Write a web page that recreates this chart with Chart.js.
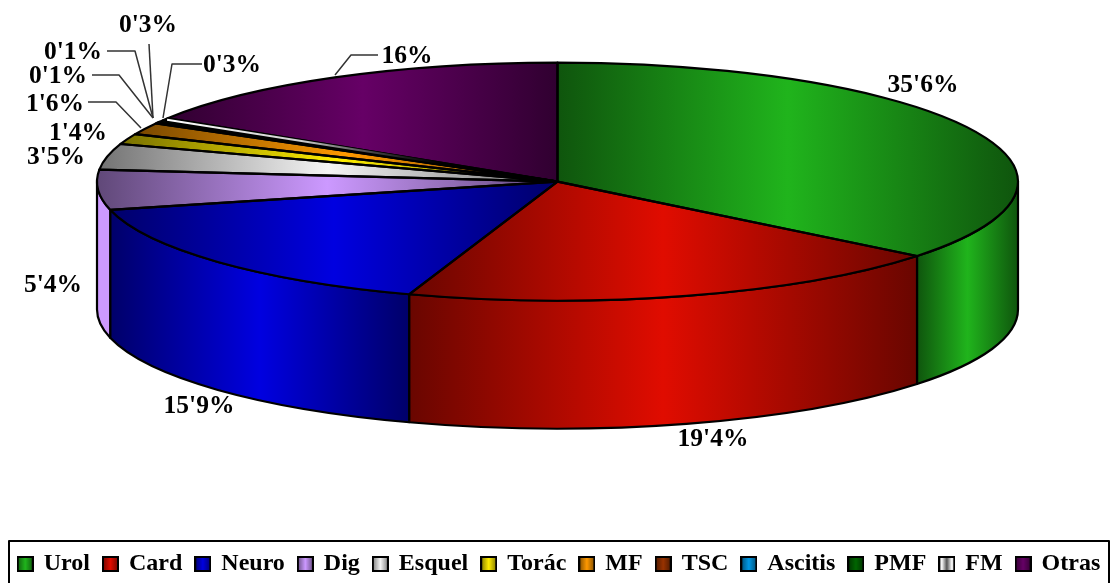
<!DOCTYPE html>
<html>
<head>
<meta charset="utf-8">
<style>
    html, body { margin: 0; padding: 0; background: #fff; overflow: hidden; }
    canvas { display: block; }
</style>
<script src="https://cdn.jsdelivr.net/npm/chart.js@4"></script>
</head>
<body>
<canvas id="pieChart" width="1110" height="583"></canvas>
<script>
// Data
const categories = ['Urol', 'Card', 'Neuro', 'Dig', 'Esquel', 'Torác', 'MF', 'TSC', 'Ascitis', 'PMF', 'FM', 'Otras'];
const percentages = [35.6, 19.4, 15.9, 5.4, 3.5, 1.4, 1.6, 0.1, 0.1, 0.3, 0.3, 16];
const sliceColors = ['#20b41c', '#e00c00', '#0000e0', '#cc99ff', '#f4f4f4', '#ffee00', '#ff9900', '#993300', '#0099e6', '#006600', '#c8c8c8', '#660066'];

// Where the percentage labels sit: text centre, then the leader line if it has one
const labelSpots = [
    { x: 923, y: 83 },
    { x: 713, y: 437 },
    { x: 199, y: 404 },
    { x: 53, y: 283 },
    { x: 56, y: 155 },
    { x: 78, y: 131 },
    { x: 55, y: 102, leader: [[88, 102], [116, 102], [141, 128]] },
    { x: 58, y: 74, leader: [[92, 75], [119, 75], [153, 118]] },
    { x: 73, y: 50, leader: [[107, 51], [135, 51], [153, 118]] },
    { x: 148, y: 23, leader: [[149, 44], [153, 118]] },
    { x: 232, y: 63, leader: [[202, 64], [172, 64], [163, 118]] },
    { x: 407, y: 54, leader: [[378, 55], [351, 55], [335, 75]] }
];

// The flat pie is projected onto this ellipse, with a wall below it
const pie = { x: 557.5, y: 181.6, rx: 460.5, ry: 119, depth: 128 };
const DARKEN = 0.47;
const labelFont = 'bold 25.5px "Liberation Serif"';
const BANDED = categories.indexOf('FM');

function darker(hex) {
    const n = parseInt(hex.slice(1), 16);
    const c = [n >> 16, (n >> 8) & 255, n & 255].map(v => Math.round(v * DARKEN));
    return `rgb(${c[0]}, ${c[1]}, ${c[2]})`;
}

// dark - bright - dark, across x0..x1. The FM slice has a banded metal look instead
function shade(ctx, x0, x1, color) {
    const g = ctx.createLinearGradient(x0, 0, x1, 0);
    if (color === sliceColors[BANDED]) {
        g.addColorStop(0, '#999');
        g.addColorStop(0.2, '#fff');
        g.addColorStop(0.5, '#555');
        g.addColorStop(0.8, '#fff');
        g.addColorStop(1, '#999');
        return g;
    }
    g.addColorStop(0, darker(color));
    g.addColorStop(0.5, color);
    g.addColorStop(1, darker(color));
    return g;
}

// Horizontal extent of a slice on the unit circle, as [min, max]
function sliceExtent(index) {
    const total = percentages.reduce((a, b) => a + b, 0);
    const before = percentages.slice(0, index).reduce((a, b) => a + b, 0);
    const start = before / total * 2 * Math.PI;
    const end = (before + percentages[index]) / total * 2 * Math.PI;
    const xs = [0, Math.sin(start), Math.sin(end)];
    if (start < Math.PI / 2 && end > Math.PI / 2) xs.push(1);
    if (start < 3 * Math.PI / 2 && end > 3 * Math.PI / 2) xs.push(-1);
    return [Math.min(...xs), Math.max(...xs)];
}

function sliceFill(context) {
    const area = context.chart.chartArea;
    if (!area) return sliceColors[context.dataIndex];
    const cx = (area.left + area.right) / 2;
    const r = Math.min(area.width, area.height) / 2;
    const [lo, hi] = sliceExtent(context.dataIndex);
    return shade(context.chart.ctx, cx + r * lo, cx + r * hi, sliceColors[context.dataIndex]);
}

// Legend swatches are small canvases so they can carry the same shading
function makeSwatch(color) {
    const c = document.createElement('canvas');
    c.width = 17;
    c.height = 16;
    const sctx = c.getContext('2d');
    sctx.fillStyle = shade(sctx, 0, 17, color);
    sctx.fillRect(0, 0, 17, 16);
    sctx.strokeStyle = '#000';
    sctx.lineWidth = 2;
    sctx.strokeRect(1, 1, 15, 14);
    return c;
}

function drawWalls(chart) {
    const ctx = chart.ctx;
    chart.getDatasetMeta(0).data.forEach((arc, i) => {
        // only the part of a slice facing the viewer has a wall
        const from = Math.max(arc.startAngle, 0);
        const to = Math.min(arc.endAngle, Math.PI);
        if (from >= to) return;
        const x0 = pie.x + pie.rx * Math.cos(to);
        const x1 = pie.x + pie.rx * Math.cos(from);
        ctx.beginPath();
        ctx.ellipse(pie.x, pie.y, pie.rx, pie.ry, 0, from, to);
        ctx.ellipse(pie.x, pie.y + pie.depth, pie.rx, pie.ry, 0, to, from, true);
        ctx.closePath();
        ctx.fillStyle = x1 - x0 < 20 ? sliceColors[i] : shade(ctx, x0, x1, sliceColors[i]);
        ctx.fill();
        ctx.strokeStyle = '#000';
        ctx.lineWidth = 2.2;
        ctx.lineJoin = 'round';
        ctx.stroke();
    });
}

function drawOutlines(chart) {
    const ctx = chart.ctx;
    const arcs = chart.getDatasetMeta(0).data;
    ctx.strokeStyle = '#000';
    ctx.lineWidth = 2.2;
    ctx.lineJoin = 'round';
    arcs.forEach(arc => {
        ctx.beginPath();
        ctx.moveTo(pie.x, pie.y);
        ctx.ellipse(pie.x, pie.y, pie.rx, pie.ry, 0, arc.startAngle, arc.endAngle);
        ctx.closePath();
        ctx.stroke();
    });

    // the FM slice is thinner than its outlines, keep its light band visible at the rim
    const mid = (arcs[BANDED].startAngle + arcs[BANDED].endAngle) / 2;
    const rimX = pie.x + (pie.rx - 2) * Math.cos(mid);
    const rimY = pie.y + (pie.ry - 1) * Math.sin(mid);
    const band = ctx.createLinearGradient(rimX, 0, pie.x, 0);
    band.addColorStop(0, '#fff');
    band.addColorStop(0.35, '#ccc');
    band.addColorStop(0.7, 'rgba(80, 80, 80, 0)');
    ctx.beginPath();
    ctx.moveTo(rimX, rimY);
    ctx.lineTo(pie.x, pie.y);
    ctx.strokeStyle = band;
    ctx.lineWidth = 2;
    ctx.stroke();
}

function drawLabels(chart) {
    const ctx = chart.ctx;
    ctx.font = labelFont;
    ctx.fillStyle = '#000';
    ctx.textAlign = 'center';
    ctx.textBaseline = 'middle';
    percentages.forEach((value, i) => {
        const spot = labelSpots[i];
        ctx.fillText(String(value).replace('.', "'") + '%', spot.x, spot.y + 2);
        if (spot.leader) {
            ctx.beginPath();
            spot.leader.forEach(([x, y], k) => k ? ctx.lineTo(x, y) : ctx.moveTo(x, y));
            ctx.strokeStyle = '#333';
            ctx.lineWidth = 1.5;
            ctx.stroke();
        }
    });
}

const pie3d = {
    id: 'pie3d',
    beforeDatasetsDraw(chart) {
        const ctx = chart.ctx;
        const area = chart.chartArea;
        const r = Math.min(area.width, area.height) / 2;
        drawWalls(chart);
        ctx.save();
        ctx.translate(pie.x, pie.y);
        ctx.scale(pie.rx / r, pie.ry / r);
        ctx.translate(-(area.left + area.right) / 2, -(area.top + area.bottom) / 2);
    },
    afterDatasetsDraw(chart) {
        chart.ctx.restore();
        drawOutlines(chart);
        drawLabels(chart);
    },
    afterDraw(chart) {
        // frame round the legend, its bottom edge runs off the page
        const ctx = chart.ctx;
        ctx.strokeStyle = '#000';
        ctx.lineWidth = 2;
        ctx.strokeRect(9, 541, 1100, 60);
    }
};

const swatches = sliceColors.map(makeSwatch);

new Chart(document.getElementById('pieChart'), {
    type: 'pie',
    data: {
        labels: categories,
        datasets: [{
            data: percentages,
            backgroundColor: sliceFill,
            borderWidth: 0,
            clip: false
        }]
    },
    options: {
        responsive: false,
        animation: false,
        events: [],
        layout: { padding: { left: 3, right: -6, bottom: -3 } },
        plugins: {
            tooltip: { enabled: false },
            legend: {
                position: 'bottom',
                labels: {
                    color: '#000',
                    font: { family: '"Liberation Serif"', size: 24, weight: 'bold' },
                    usePointStyle: true,
                    boxWidth: 13,
                    boxHeight: 15,
                    padding: 14,
                    generateLabels: () => categories.map((text, i) => ({
                        text,
                        pointStyle: swatches[i],
                        hidden: false,
                        index: i
                    }))
                }
            }
        }
    },
    plugins: [pie3d]
});
</script>
</body>
</html>
